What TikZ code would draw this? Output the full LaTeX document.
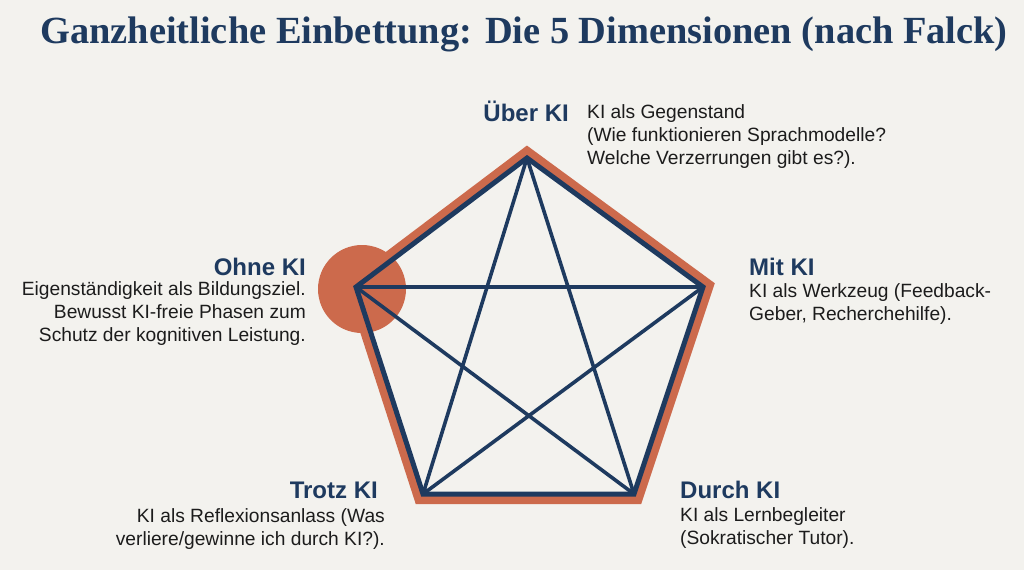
\documentclass[tikz,border=0pt]{standalone}
\usepackage{fontspec}
\setmainfont{Liberation Sans}
\newfontfamily\titlefont{Liberation Serif}
\definecolor{navy}{RGB}{30,58,95}
\definecolor{rust}{RGB}{204,106,76}
\definecolor{bgc}{RGB}{243,242,238}
\definecolor{txt}{RGB}{28,28,28}
\tikzset{
  lab/.style={inner sep=0pt, text=navy, font=\fontsize{24}{27}\selectfont\bfseries},
  desc/.style={inner sep=0pt, text=txt, font=\fontsize{19.2}{23}\selectfont},
  rim/.style={draw=rust, line width=20pt, line join=miter},
  frame/.style={draw=navy, line width=5pt, line join=miter},
  diag/.style={draw=navy, line width=3.6pt, line cap=round},
}
\begin{document}
\begin{tikzpicture}[x=1pt,y=-1pt]
\fill[bgc] (0,0) rectangle (1024,570);
\useasboundingbox (0,0) rectangle (1024,570);
\node[inner sep=0pt, text=navy, font=\titlefont\fontsize{38.4}{42}\selectfont\bfseries, anchor=base] (title) at (524,43) {Ganzheitliche Einbettung: Die 5 Dimensionen (nach Falck)};
\coordinate (T) at (527,158);
\coordinate (L) at (356,287);
\coordinate (R) at (703,287);
\coordinate (BL) at (423,494);
\coordinate (BR) at (634,494);
\draw[rim] (T) -- (R) -- (BR) -- (BL) -- (L) -- cycle;
\fill[bgc] (T) -- (R) -- (BR) -- (BL) -- (L) -- cycle;
\fill[rust] (362,289) circle (44);
\draw[diag] (T) -- (BL) (T) -- (BR) (L) -- (R) (L) -- (BR) (R) -- (BL);
\draw[frame] (T) -- (R) -- (BR) -- (BL) -- (L) -- cycle;
% labels
\node[lab, anchor=base east] (uber) at (569,121) {Über KI};
\node[desc, anchor=north west, align=left] (uberd) at (587,104) {KI als Gegenstand\\(Wie funktionieren Sprachmodelle?\\Welche Verzerrungen gibt es?).};
\node[lab, anchor=base east] (ohne) at (306,275) {Ohne KI};
\node[desc, anchor=north east, align=right] (ohned) at (306,281) {Eigenständigkeit als Bildungsziel.\\Bewusst KI-freie Phasen zum\\Schutz der kognitiven Leistung.};
\node[lab, anchor=base west] (mit) at (749,275) {Mit KI};
\node[desc, anchor=north west, align=left] (mitd) at (749,283) {KI als Werkzeug (Feedback-\\Geber, Recherchehilfe).};
\node[lab, anchor=base east] (trotz) at (378,498) {Trotz KI};
\node[desc, anchor=north east, align=right] (trotzd) at (385,508) {KI als Reflexionsanlass (Was\\verliere/gewinne ich durch KI?).};
\node[lab, anchor=base west] (durch) at (680,498) {Durch KI};
\node[desc, anchor=north west, align=left] (durchd) at (680,507) {KI als Lernbegleiter\\(Sokratischer Tutor).};
\end{tikzpicture}
\end{document}
